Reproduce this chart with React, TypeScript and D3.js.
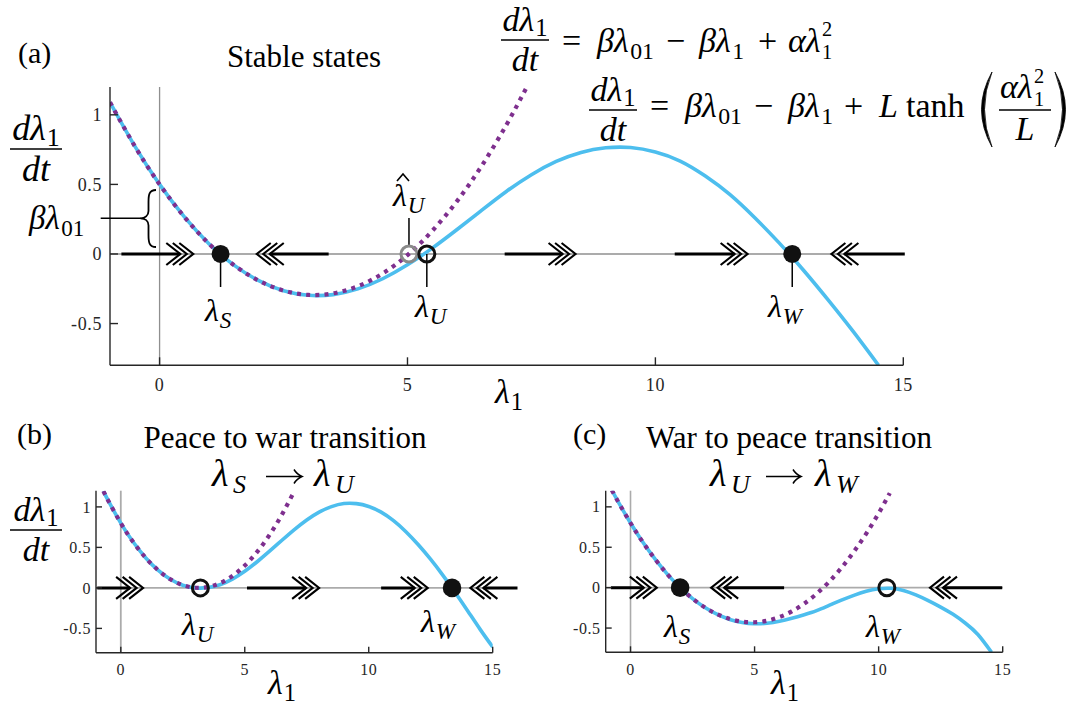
import React from 'react';
import * as d3 from 'd3';

// ---------- data: panel (a) ----------
const lamA = [-1, -0.5, 0, 0.5, 1, 1.5, 2, 2.5, 3, 3.5, 4, 4.5, 5, 5.5, 6, 6.5, 7, 7.5, 8, 8.5, 9, 9.5, 10, 10.5, 11, 11.5, 12, 12.5, 13, 13.5, 14, 14.5];
const tanhA = [1.09, 0.775, 0.5, 0.266, 0.072, -0.08, -0.192, -0.264, -0.297, -0.292, -0.251, -0.178, -0.078, 0.042, 0.176, 0.315, 0.451, 0.57, 0.665, 0.73, 0.763, 0.765, 0.733, 0.668, 0.562, 0.428, 0.262, 0.078, -0.122, -0.337, -0.562, -0.8];
const quadLamA = [-1, -0.5, 0, 0.5, 1, 1.5, 2, 2.5, 3, 3.5, 4, 4.5, 5, 5.5, 6, 6.5, 7, 7.4];
const quadA = [1.09, 0.775, 0.5, 0.266, 0.072, -0.08, -0.192, -0.263, -0.294, -0.283, -0.232, -0.14, -0.008, 0.166, 0.38, 0.635, 0.931, 1.196];
const arrowsA = [{ from: -0.77, to: 0.68 }, { from: 3.41, to: 1.96 }, { from: 6.96, to: 8.39 }, { from: 10.39, to: 11.86 }, { from: 15.03, to: 13.55 }];
const pointsA = [{ lam: 1.23, kind: 'filled' }, { lam: 5.03, kind: 'grey' }, { lam: 5.39, kind: 'open' }, { lam: 12.76, kind: 'filled' }];
const stemsA = [{ lam: 1.23, dir: 1 }, { lam: 5.39, dir: 1 }, { lam: 12.76, dir: 1 }, { lam: 5.03, dir: -1 }];

// ---------- data: panel (b) ----------
const lamB = [-0.7, -0.5, 0, 0.5, 1, 1.5, 2, 2.5, 3, 3.5, 4, 4.5, 5, 5.5, 6, 6.5, 7, 7.5, 8, 8.5, 9, 9.5, 10, 10.5, 11, 11.5, 12, 12.5, 13, 13.5, 14, 14.5, 15];
const tanhB = [1.195, 1.074, 0.8, 0.566, 0.373, 0.22, 0.107, 0.033, 0.0, 0.003, 0.039, 0.109, 0.206, 0.323, 0.453, 0.588, 0.72, 0.839, 0.936, 1.004, 1.041, 1.04, 1.005, 0.935, 0.83, 0.694, 0.532, 0.351, 0.152, -0.062, -0.287, -0.515, -0.73];
const quadLamB = [-0.7, -0.5, 0, 0.5, 1, 1.5, 2, 2.5, 3, 3.5, 4, 4.5, 5, 5.5, 6, 6.5, 7];
const quadB = [1.195, 1.074, 0.8, 0.566, 0.373, 0.22, 0.107, 0.034, 0.002, 0.01, 0.058, 0.147, 0.276, 0.445, 0.655, 0.905, 1.195];
const arrowsB = [{ from: -0.95, to: 0.9 }, { from: 5.09, to: 8.0 }, { from: 10.5, to: 12.38 }, { from: 16.0, to: 14.1 }];
const pointsB = [{ lam: 3.21, kind: 'open' }, { lam: 13.36, kind: 'filled' }];

// ---------- data: panel (c) ----------
const lamC = [-0.75, -0.5, 0, 0.5, 1, 1.5, 2, 2.5, 3, 3.5, 4, 4.5, 5, 5.5, 6, 6.5, 7, 7.5, 8, 8.5, 9, 9.5, 10, 10.5, 11, 11.5, 12, 12.5, 13, 13.5, 14, 14.55];
const tanhC = [1.206, 1.064, 0.8, 0.561, 0.349, 0.161, 0.0, -0.136, -0.246, -0.332, -0.393, -0.43, -0.446, -0.441, -0.417, -0.379, -0.335, -0.285, -0.22, -0.155, -0.095, -0.045, -0.014, -0.008, -0.035, -0.09, -0.16, -0.24, -0.33, -0.44, -0.58, -0.8];
const quadLamC = [-0.75, -0.5, 0, 0.5, 1, 1.5, 2, 2.5, 3, 3.5, 4, 4.5, 5, 5.5, 6, 6.5, 7, 7.5, 8, 8.5, 9, 9.5, 10, 10.45];
const quadC = [1.206, 1.064, 0.8, 0.561, 0.349, 0.161, 0.0, -0.136, -0.246, -0.33, -0.388, -0.421, -0.428, -0.409, -0.364, -0.294, -0.198, -0.076, 0.072, 0.245, 0.445, 0.669, 0.92, 1.17];
const arrowsC = [{ from: -0.79, to: 1.06 }, { from: 6.19, to: 3.25 }, { from: 14.98, to: 12.07 }];
const pointsC = [{ lam: 2.0, kind: 'filled' }, { lam: 10.33, kind: 'open' }];

// ---------- axes ----------
const xDomain = [-1, 15];
const yDomain = [-0.8, 1.2];
const xTicks = [0, 5, 10, 15];
const yTicks = [-0.5, 0, 0.5, 1];
const yTickLabels = ['-0.5', '0', '0.5', '1'];

const W = 1079, H = 707;
const BLUE = '#4DBEEE';
const PURPLE = '#7E2F8E';
const SERIF = 'Liberation Serif';

type PanelProps = {
  id: string;
  xr: [number, number];
  yr: [number, number];
  lamBlue: number[]; blue: number[];
  lamQuad: number[]; quad: number[];
  arrows: { from: number; to: number }[];
  points: { lam: number; kind: string }[];
  stems?: { lam: number; dir: number }[];
  tickFs: number; tickLen: number; tickGap: number; xTickBase: number;
  gridColor: string; gridW: number; rFilled: number; rOpen: number;
};

function Chevrons({ tx, y, dir }: { tx: number; y: number; dir: number }) {
  return (
    <g fill="none" stroke="#000" strokeWidth={2.1}>
      {[0, 1, 2].map((i) => {
        const t = tx - dir * i * 6.5;
        return <path key={i} d={`M${t - dir * 14},${y - 11} L${t},${y} L${t - dir * 14},${y + 11}`} />;
      })}
    </g>
  );
}

function Panel(p: PanelProps) {
  const x = d3.scaleLinear().domain(xDomain).range(p.xr);
  const y = d3.scaleLinear().domain(yDomain).range(p.yr);
  const line = d3.line<[number, number]>().x((d) => x(d[0])).y((d) => y(d[1])).curve(d3.curveNatural);
  const bluePts = p.lamBlue.map((l, i) => [l, p.blue[i]] as [number, number]);
  const quadPts = p.lamQuad.map((l, i) => [l, p.quad[i]] as [number, number]);
  const xL = p.xr[0], xR = p.xr[1], yT = p.yr[1], yB = p.yr[0];
  const y0 = y(0);
  const clipId = 'clip-' + p.id;
  return (
    <g>
      <defs>
        <clipPath id={clipId}>
          <rect x={xL} y={yT} width={xR - xL} height={yB - yT} />
        </clipPath>
      </defs>
      <line x1={x(0)} x2={x(0)} y1={yT} y2={yB} stroke={p.gridColor} strokeWidth={p.gridW} />
      <line x1={xL} x2={xR} y1={y0} y2={y0} stroke={p.gridColor} strokeWidth={p.gridW} />
      <g clipPath={`url(#${clipId})`}>
        <path d={line(bluePts) || ''} fill="none" stroke={BLUE} strokeWidth={3.6} />
        <path d={line(quadPts) || ''} fill="none" stroke={PURPLE} strokeWidth={4.2} strokeDasharray="4 5.2" />
      </g>
      {p.arrows.map((a, i) => {
        const dir = a.to > a.from ? 1 : -1;
        const tx = x(a.to);
        return (
          <g key={i}>
            <line x1={x(a.from)} x2={tx - dir * 13} y1={y0} y2={y0} stroke="#000" strokeWidth={3} />
            <Chevrons tx={tx} y={y0} dir={dir} />
          </g>
        );
      })}
      {(p.stems || []).map((s, i) => (
        <line key={i} x1={x(s.lam)} x2={x(s.lam)} y1={s.dir > 0 ? y0 : y0 - 8} y2={s.dir > 0 ? y0 + 33 : y0 - 36} stroke="#000" strokeWidth={1.5} />
      ))}
      {p.points.map((pt, i) =>
        pt.kind === 'filled' ? (
          <circle key={i} cx={x(pt.lam)} cy={y0} r={p.rFilled} fill="#111" />
        ) : (
          <circle key={i} cx={x(pt.lam)} cy={y0} r={p.rOpen} fill="none" stroke={pt.kind === 'grey' ? '#8a8a8a' : '#111'} strokeWidth={3} />
        )
      )}
      <line x1={xL} x2={xL} y1={yT} y2={yB} stroke="#262626" strokeWidth={1.4} />
      <line x1={xL} x2={xR} y1={yB} y2={yB} stroke="#262626" strokeWidth={1.4} />
      {xTicks.map((t) => (
        <g key={'x' + t}>
          <line x1={x(t)} x2={x(t)} y1={yB} y2={yB - p.tickLen} stroke="#262626" strokeWidth={1.4} />
          <text x={x(t)} y={p.xTickBase} textAnchor="middle" fontFamily={SERIF} fontSize={p.tickFs} letterSpacing={0.6} fill="#262626">{t}</text>
        </g>
      ))}
      {yTicks.map((t, i) => (
        <g key={'y' + t}>
          <line x1={xL} x2={xL + p.tickLen} y1={y(t)} y2={y(t)} stroke="#262626" strokeWidth={1.4} />
          <text x={xL - p.tickGap} y={y(t)} dy="0.35em" textAnchor="end" fontFamily={SERIF} fontSize={p.tickFs} letterSpacing={0.6} fill="#262626">{yTickLabels[i]}</text>
        </g>
      ))}
    </g>
  );
}

function Lam({ x, y, sub, fs = 32, anchor = 'start', subItalic = true }: { x: number; y: number; sub: string; fs?: number; anchor?: string; subItalic?: boolean }) {
  return (
    <text x={x} y={y} fontFamily={SERIF} fontSize={fs} textAnchor={anchor as any}>
      <tspan fontStyle="italic">λ</tspan>
      <tspan fontSize={fs * 0.72} dy={fs * 0.22} dx={1} fontStyle={subItalic ? 'italic' : 'normal'}>{sub}</tspan>
    </text>
  );
}

function DFrac({ cx, bar, w, fs }: { cx: number; bar: number; w: number; fs: number }) {
  return (
    <g fontFamily={SERIF}>
      <text x={cx} y={bar - 9} textAnchor="middle" fontSize={fs}>
        <tspan fontStyle="italic">dλ</tspan>
        <tspan fontSize={fs * 0.72} dy={fs * 0.16} dx={1}>1</tspan>
      </text>
      <line x1={cx - w / 2} x2={cx + w / 2} y1={bar} y2={bar} stroke="#000" strokeWidth={1.3} />
      <text x={cx} y={bar + fs * 0.9} textAnchor="middle" fontSize={fs} fontStyle="italic">dt</text>
    </g>
  );
}

function T({ x, y, t, fs, italic = false, anchor = 'start' }: { x: number; y: number; t: string; fs: number; italic?: boolean; anchor?: string }) {
  return <text x={x} y={y} fontFamily={SERIF} fontSize={fs} fontStyle={italic ? 'italic' : 'normal'} textAnchor={anchor as any}>{t}</text>;
}

// italic base followed by an upright subscript
function BSub({ x, y, base, sub, fs }: { x: number; y: number; base: string; sub: string; fs: number }) {
  return (
    <text x={x} y={y} fontFamily={SERIF} fontSize={fs}>
      <tspan fontStyle="italic">{base}</tspan>
      <tspan fontSize={fs * 0.7} dy={fs * 0.21} dx={1.5}>{sub}</tspan>
    </text>
  );
}

// italic "αλ" with stacked superscript 2 and subscript 1
function AlphaLam({ x, y, fs, up, down }: { x: number; y: number; fs: number; up: number; down: number }) {
  const sc = fs * 0.6;
  return (
    <text x={x} y={y} fontFamily={SERIF} fontSize={fs}>
      <tspan fontStyle="italic">αλ</tspan>
      <tspan fontSize={sc} dy={-up} dx={1.5}>2</tspan>
      <tspan fontSize={sc} dy={up + down} dx={-sc * 0.5}>1</tspan>
    </text>
  );
}

function RightArrow({ x1, x2, y }: { x1: number; x2: number; y: number }) {
  return (
    <g fill="none" stroke="#000" strokeWidth={1.5}>
      <line x1={x1} x2={x2 - 1} y1={y} y2={y} />
      <path d={`M${x2 - 8},${y - 7} Q${x2 - 5},${y - 2} ${x2},${y} Q${x2 - 5},${y + 2} ${x2 - 8},${y + 7}`} />
    </g>
  );
}

export default function App() {
  const eqFs = 34;
  return (
    <svg width={W} height={H} style={{ position: 'absolute', left: 0, top: 0, background: '#fff' }}>
      <rect width={W} height={H} fill="#fff" />

      {/* ===== Panel (a) ===== */}
      <Panel id="a" xr={[110, 903.3]} yr={[365.3, 87]} lamBlue={lamA} blue={tanhA} lamQuad={quadLamA} quad={quadA}
        arrows={arrowsA} points={pointsA} stems={stemsA} tickFs={18} tickLen={8} tickGap={8} xTickBase={391}
        gridColor="#8f8f8f" gridW={1.3} rFilled={9} rOpen={8} />
      <T x={18} y={63} t="(a)" fs={30} />
      <T x={304} y={67} t="Stable states" fs={31} anchor="middle" />
      <DFrac cx={36} bar={149} w={52} fs={36} />
      <BSub x={29} y={229} base="βλ" sub="01" fs={33} />
      <line x1={100.7} x2={141} y1={218.3} y2={218.3} stroke="#000" strokeWidth={1.4} />
      <path d="M156,190 C149,190 148.5,195 148.5,202 L148.5,211 C148.5,215.5 145,218.3 140.5,218.3 C145,218.3 148.5,221 148.5,225.5 L148.5,235 C148.5,242 149,247 156,247"
        fill="none" stroke="#000" strokeWidth={1.8} />
      <Lam x={205} y={321} sub="S" />
      <Lam x={415} y={317} sub="U" />
      <Lam x={768} y={317} sub="W" />
      <Lam x={393} y={206} sub="U" />
      <path d="M397,181 L403,174 L409,181" fill="none" stroke="#000" strokeWidth={1.6} />
      <Lam x={495} y={403} sub="1" fs={34} subItalic={false} />

      {/* equations */}
      <DFrac cx={525} bar={40} w={48} fs={eqFs} />
      <T x={562} y={52} t="=" fs={eqFs} />
      <BSub x={597} y={52} base="βλ" sub="01" fs={eqFs} />
      <T x={666} y={52} t="−" fs={eqFs} />
      <BSub x={699} y={52} base="βλ" sub="1" fs={eqFs} />
      <T x={758} y={52} t="+" fs={eqFs} />
      <AlphaLam x={788} y={52} fs={eqFs} up={16} down={7} />

      <DFrac cx={613} bar={110} w={48} fs={eqFs} />
      <T x={650} y={117} t="=" fs={eqFs} />
      <BSub x={685} y={117} base="βλ" sub="01" fs={eqFs} />
      <T x={754} y={117} t="−" fs={eqFs} />
      <BSub x={788} y={117} base="βλ" sub="1" fs={eqFs} />
      <T x={844} y={117} t="+" fs={eqFs} />
      <T x={879} y={117} t="L" fs={eqFs} italic />
      <T x={906} y={117} t="tanh" fs={eqFs} />
      <path d="M992,72 Q971,109.5 992,147 Q977,109.5 992,72 Z" fill="#000" stroke="#000" strokeWidth={0.8} />
      <path d="M1055,72 Q1076,109.5 1055,147 Q1070,109.5 1055,72 Z" fill="#000" stroke="#000" strokeWidth={0.8} />
      <AlphaLam x={1000} y={98} fs={eqFs} up={15} down={8} />
      <line x1={999} x2={1051} y1={110} y2={110} stroke="#000" strokeWidth={1.3} />
      <T x={1025} y={140} t="L" fs={eqFs} italic anchor="middle" />

      {/* ===== Panel (b) ===== */}
      <Panel id="b" xr={[96, 492.7]} yr={[652.7, 490.7]} lamBlue={lamB} blue={tanhB} lamQuad={quadLamB} quad={quadB}
        arrows={arrowsB} points={pointsB} tickFs={16} tickLen={6} tickGap={5} xTickBase={675}
        gridColor="#ababab" gridW={1.8} rFilled={9.3} rOpen={8} />
      <T x={17} y={444} t="(b)" fs={30} />
      <T x={285} y={448} t="Peace to war transition" fs={31} anchor="middle" />
      <T x={212} y={486} t="λ" fs={38} italic />
      <T x={233} y={493} t="S" fs={26} italic />
      <RightArrow x1={266} x2={302} y={476.5} />
      <T x={314} y={486} t="λ" fs={38} italic />
      <T x={335} y={493} t="U" fs={26} italic />
      <DFrac cx={36} bar={530} w={52} fs={34} />
      <Lam x={182} y={635} sub="U" />
      <Lam x={421} y={632} sub="W" />
      <Lam x={268} y={694} sub="1" fs={34} subItalic={false} />

      {/* ===== Panel (c) ===== */}
      <Panel id="c" xr={[605.7, 1002.7]} yr={[652.3, 490.7]} lamBlue={lamC} blue={tanhC} lamQuad={quadLamC} quad={quadC}
        arrows={arrowsC} points={pointsC} tickFs={16} tickLen={6} tickGap={5} xTickBase={675}
        gridColor="#ababab" gridW={1.6} rFilled={9.3} rOpen={8} />
      <T x={573} y={444} t="(c)" fs={30} />
      <T x={789} y={448} t="War to peace transition" fs={31} anchor="middle" />
      <T x={710} y={486} t="λ" fs={38} italic />
      <T x={731} y={493} t="U" fs={26} italic />
      <RightArrow x1={766} x2={801} y={476.5} />
      <T x={815} y={486} t="λ" fs={38} italic />
      <T x={836} y={493} t="W" fs={26} italic />
      <Lam x={664} y={637} sub="S" />
      <Lam x={866} y={637} sub="W" />
      <Lam x={771} y={694} sub="1" fs={34} subItalic={false} />
    </svg>
  );
}
